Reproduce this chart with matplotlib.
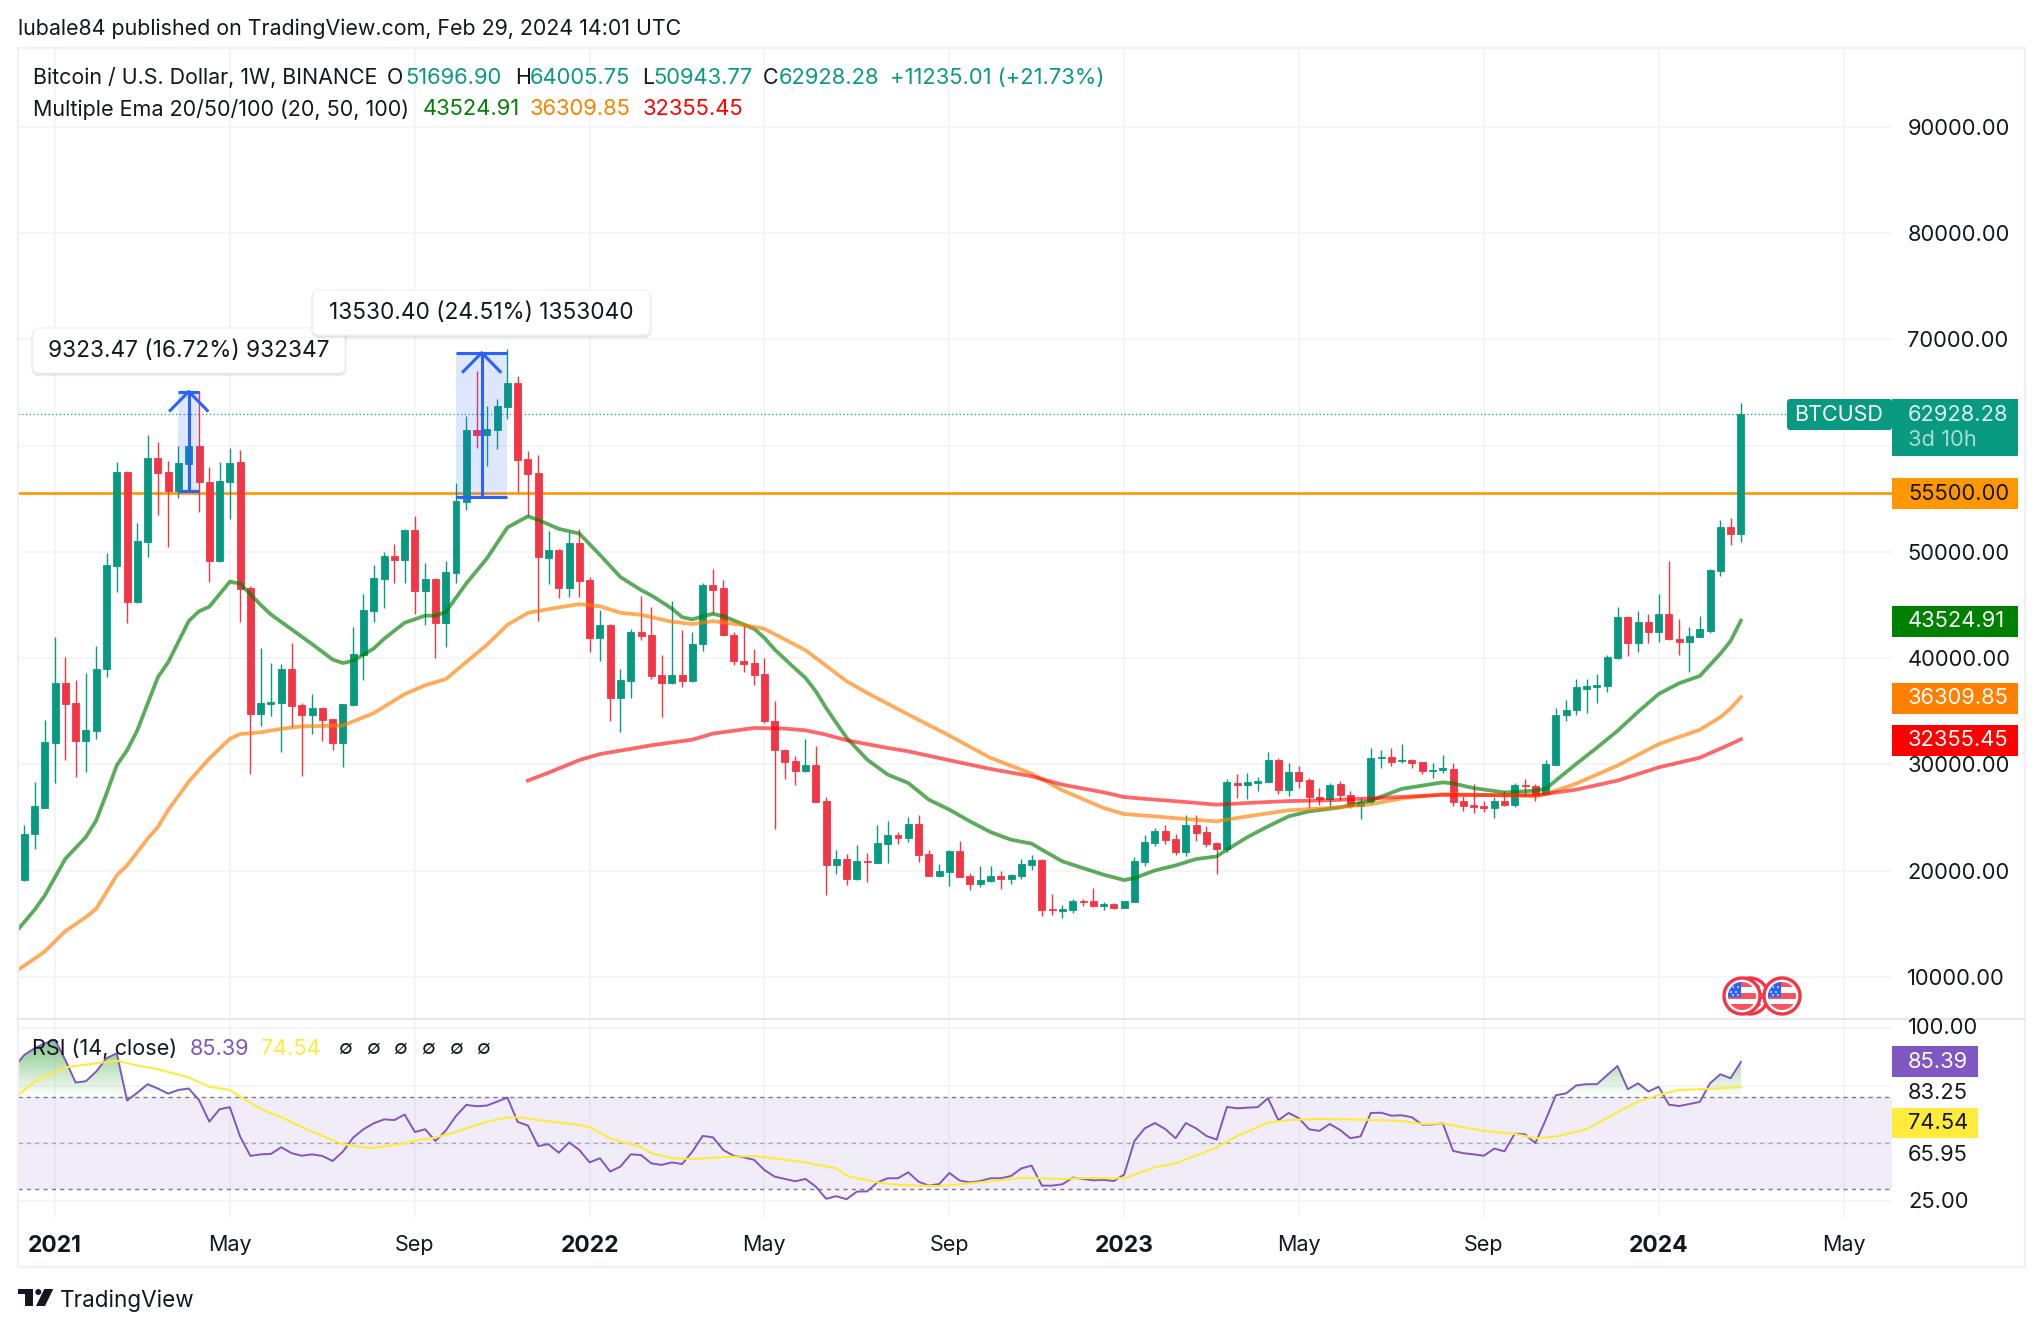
"""BTCUSD weekly chart with EMA 20/50/100 and RSI pane, TradingView look."""
import matplotlib
matplotlib.use("Agg")
import matplotlib.pyplot as plt
import numpy as np
from matplotlib.patches import Circle, FancyBboxPatch, Polygon, Rectangle
from matplotlib.path import Path

plt.rcParams["font.family"] = ["Inter", "DejaVu Sans"]

W, H = 2043, 1330
UP, DOWN = "#089981", "#F23645"
INK = "#131722"
GRID = "#F3F3F6"
BLUE = "#2962FF"

# weekly candles, first one is index 1 (week of 2020-12-14)
opens = [
    19070, 23410, 25920, 32010, 37680, 35800, 32200, 33110, 38950, 48700,
    57500, 45240, 50950, 58850, 57500, 55750, 58270, 59950, 56530, 49130,
    56560, 58440, 46620, 34750, 35700, 35800, 38950, 35600, 34650, 35330,
    34250, 32030, 35600, 40300, 44430, 47450, 49600, 49270, 52060, 46350,
    47460, 43320, 48030, 54680, 61470, 61030, 61470, 63650, 65900, 58710,
    57430, 49440, 50210, 46620, 50820, 47350, 41910, 43120, 36270, 37850,
    42450, 42180, 38420, 37680, 38420, 37850, 41310, 46920, 46550, 42210,
    39700, 39580, 38540, 34110, 31380, 30340, 29400, 29970, 26580, 20550,
    21110, 19230, 20920, 20730, 22530, 23370, 23090, 24410, 21580, 19510,
    19890, 21870, 19510, 18760, 19040, 19510, 19230, 19510, 20550, 21020,
    16400, 16210, 16310, 17160, 17160, 16690, 16870, 16500, 17060, 20830,
    22620, 23750, 23000, 21770, 24320, 23650, 22620, 22050, 28270, 28080,
    28270, 28370, 30440, 27610, 29310, 28530, 26920, 26750, 28160, 27120,
    26110, 26440, 30620, 30720, 30280, 30420, 30220, 29380, 29480, 29580,
    26510, 26170, 26070, 25870, 26510, 26210, 28060, 27960, 27220, 29980,
    34600, 35070, 37130, 37290, 37400, 39960, 43900, 41370, 43430, 42420,
    44100, 41810, 41540, 42010, 42590, 48150, 52330, 51696.90,
]
highs = [
    24250, 28300, 34180, 41980, 40130, 37950, 38620, 41140, 49870, 58440,
    57600, 52730, 60960, 60290, 58540, 59950, 61000, 65160, 57940, 58440,
    59790, 59550, 46780, 40970, 39560, 39460, 41410, 35800, 36600, 35400,
    34300, 35700, 42920, 46010, 48770, 49980, 50710, 52160, 53400, 48970,
    47500, 49100, 56490, 62810, 67010, 63750, 64390, 69090, 66570, 59520,
    59110, 51960, 50300, 51820, 52130, 47620, 44500, 43200, 38950, 42720,
    45840, 44830, 40300, 45340, 42650, 42480, 47020, 48340, 47300, 42460,
    43000, 40890, 40050, 36000, 31400, 30750, 32420, 31760, 26920, 21960,
    21580, 22430, 21650, 24320, 24690, 23660, 25070, 25260, 21960, 20640,
    21900, 22810, 19790, 20450, 20450, 19980, 19700, 21110, 21490, 21110,
    17820, 16780, 17340, 17300, 18380, 17060, 16970, 17160, 21300, 23370,
    24000, 24320, 23470, 25260, 25260, 24220, 22700, 28650, 29120, 29210,
    28840, 31190, 30630, 30160, 29870, 28700, 27760, 28260, 28430, 27520,
    26850, 31570, 31360, 31570, 31900, 30500, 30250, 30120, 30830, 30080,
    27020, 28130, 26510, 26920, 27520, 28200, 28600, 28130, 30390, 35270,
    36050, 38040, 38040, 38540, 40330, 44840, 44000, 44470, 44170, 45990,
    49090, 43630, 42960, 44000, 48420, 52970, 53170, 64005.75,
]
lows = [
    18980, 21990, 25850, 28240, 30380, 28810, 29250, 32360, 38180, 46250,
    43260, 45170, 49540, 53500, 50480, 55020, 55750, 53740, 47190, 49030,
    53130, 43420, 29040, 33650, 34590, 31160, 33510, 28870, 32840, 32170,
    31390, 29710, 35530, 37950, 43390, 44670, 47090, 47090, 44160, 43150,
    39960, 41070, 47020, 53970, 59790, 58110, 59720, 62540, 55590, 53400,
    43490, 46950, 45610, 45740, 45740, 40570, 39730, 34080, 33070, 36270,
    41740, 38010, 34420, 37540, 37270, 37780, 40640, 44250, 42060, 39320,
    38670, 37500, 33890, 23940, 28650, 28080, 29310, 26480, 17720, 19700,
    18660, 19070, 18950, 20730, 20730, 22530, 22710, 20830, 19450, 19400,
    18570, 19400, 18190, 18480, 18900, 18290, 18760, 19230, 20080, 15740,
    15840, 15550, 16030, 16690, 16590, 16310, 16400, 16450, 17000, 20450,
    22340, 22530, 21490, 21400, 22810, 22240, 19700, 21770, 26860, 26760,
    27520, 28300, 27240, 27050, 27800, 25900, 26170, 25970, 26680, 25840,
    24890, 26310, 29680, 29880, 30150, 29680, 29040, 28740, 29210, 26110,
    25570, 25430, 25500, 24990, 26100, 26000, 27120, 26580, 27110, 29950,
    34090, 34600, 34870, 35750, 36760, 39900, 40230, 40600, 41440, 41540,
    41700, 40330, 38640, 41950, 42350, 47680, 50610, 50943.77,
]
closes = [
    23470, 26040, 32070, 37680, 35700, 32200, 33240, 38950, 48770, 57500,
    45240, 50980, 58850, 57430, 55750, 58380, 59950, 56530, 49140, 56660,
    58380, 46510, 34750, 35760, 35860, 38950, 35530, 34650, 35330, 34180,
    32030, 35700, 40370, 44500, 47520, 49570, 49270, 52060, 46350, 47460,
    43320, 48090, 54750, 61470, 61030, 61530, 63720, 65900, 58680, 57330,
    49470, 50180, 46620, 50820, 47250, 41910, 43120, 36270, 37950, 42450,
    42080, 38350, 37680, 38420, 37850, 41310, 46920, 46450, 42210, 39700,
    39480, 38450, 34050, 31320, 30250, 29400, 29970, 26480, 20550, 21110,
    19230, 20920, 20830, 22620, 23370, 23090, 24410, 21490, 19510, 19980,
    21870, 19420, 18760, 19130, 19510, 19230, 19610, 20640, 21020, 16310,
    16310, 16400, 17160, 17060, 16690, 16870, 16500, 17160, 20920, 22710,
    23750, 22900, 21770, 24320, 23560, 22530, 22050, 28370, 28080, 28370,
    28460, 30440, 27610, 29310, 28460, 26920, 26750, 28060, 27120, 26110,
    26440, 30620, 30720, 30220, 30420, 30150, 29380, 29510, 29610, 26440,
    26110, 26000, 25870, 26510, 26210, 28060, 27960, 27120, 30020, 34670,
    35140, 37230, 37360, 37430, 40060, 43900, 41370, 43430, 42420, 44100,
    41780, 41540, 42110, 42690, 48250, 52330, 51700, 62928.28,
]

ema20_weeks = [
    0, 2, 3, 4, 5, 7, 8, 9, 10, 11, 12, 14, 15, 17, 18, 19, 21, 22, 24, 25, 26,
    29, 31, 32, 33, 35, 36, 38, 40, 41, 42, 44, 46, 48, 50, 51, 53, 55, 57, 59,
    61, 62, 64, 65, 66, 67, 68, 69, 71, 72, 73, 74, 76, 77, 78, 79, 80, 81, 83,
    85, 87, 89, 91, 93, 95, 97, 99, 100, 102, 104, 106, 108, 109, 111, 113, 115,
    117, 118, 120, 122, 124, 126, 129, 132, 135, 139, 140, 142, 145, 148, 149,
    152, 154, 156, 158, 160, 162, 164, 166, 167, 168,
]
ema20 = [
    14000, 16300, 17660, 19390, 21110, 23160, 24720, 27240, 29910, 31320, 33200,
    38200, 39600, 43490, 44400, 44830, 47190, 47000, 45000, 44100, 43400, 41310,
    39860, 39530, 39750, 40900, 41810, 43320, 43990, 43990, 44330, 47020, 49370,
    52290, 53340, 53000, 52160, 51720, 49710, 47620, 46400, 45900, 44660, 43850,
    43630, 43940, 44160, 43940, 43160, 42750, 41900, 40800, 39000, 38130, 36880,
    35310, 33890, 32500, 30440, 29030, 28240, 26670, 25730, 24630, 23620, 22900,
    22530, 21960, 20860, 20230, 19610, 19100, 19290, 20010, 20480, 21080, 21330,
    21960, 23150, 24160, 25100, 25570, 25940, 26580, 27690, 28300, 28200, 27760,
    27350, 27520, 27690, 30050, 31570, 33150, 34940, 36620, 37630, 38310, 40400,
    41610, 43524.91,
]
ema50_weeks = [
    0, 2, 3, 5, 7, 8, 10, 11, 13, 14, 15, 17, 19, 21, 22, 24, 26, 28, 32, 35, 38,
    40, 42, 44, 46, 48, 50, 53, 55, 57, 59, 61, 64, 66, 68, 71, 73, 77, 81, 83,
    87, 91, 95, 99, 102, 106, 108, 111, 114, 117, 120, 124, 128, 132, 135, 139,
    148, 149, 152, 154, 156, 158, 160, 162, 164, 166, 167, 168,
]
ema50 = [
    10400, 11700, 12390, 14300, 15620, 16400, 19550, 20490, 23000, 24100, 25700,
    28370, 30550, 32400, 32840, 33010, 33340, 33570, 33650, 34820, 36600, 37440,
    38010, 39630, 41240, 43120, 44260, 44770, 45070, 44870, 44260, 44060, 43420,
    43200, 43470, 43100, 42750, 40740, 37820, 36720, 34680, 32700, 30600, 29120,
    27550, 25890, 25320, 25100, 24850, 24630, 25100, 25670, 25890, 26240, 26780,
    27190, 27020, 27190, 28200, 29040, 29880, 30890, 31900, 32580, 33250, 34430,
    35270, 36309.85,
]
ema100_weeks = [
    50, 52, 55, 57, 60, 62, 66, 68, 72, 75, 77, 79, 81, 85, 87, 91, 95, 99, 102,
    106, 108, 111, 114, 117, 120, 124, 128, 139, 148, 152, 156, 160, 164, 167, 168,
]
ema100 = [
    28470, 29210, 30400, 30960, 31450, 31790, 32320, 32890, 33420, 33360, 33200,
    32790, 32260, 31540, 31220, 30380, 29560, 28870, 28080, 27360, 26920, 26670,
    26450, 26200, 26360, 26540, 26610, 27120, 27080, 27620, 28470, 29710, 30620,
    31900, 32355.45,
]

# RSI from index 0
rsi = [
    83.0, 88.4, 91.3, 93.5, 94.9, 86.2, 76.4, 77.0, 81.2, 87.0, 89.1, 68.6, 72.0,
    75.7, 73.8, 71.6, 73.2, 73.8, 68.8, 59.4, 64.8, 65.7, 52.9, 44.5, 45.2, 45.4,
    48.3, 45.7, 44.6, 45.2, 44.5, 42.3, 46.4, 52.5, 56.1, 58.7, 60.4, 60.1, 62.5,
    54.9, 56.1, 51.0, 55.5, 61.9, 66.7, 66.1, 66.4, 68.1, 69.9, 59.3, 57.7, 48.8,
    49.6, 45.9, 50.4, 47.1, 41.7, 43.5, 37.7, 39.9, 45.2, 44.9, 41.3, 40.6, 41.7,
    41.0, 46.4, 53.2, 52.6, 47.1, 44.6, 43.9, 42.8, 38.4, 35.5, 34.5, 33.5, 34.5,
    31.2, 25.9, 27.0, 25.7, 29.0, 29.1, 33.0, 34.8, 34.8, 37.4, 33.3, 31.6, 32.3,
    37.1, 33.8, 33.0, 33.6, 34.8, 34.8, 35.8, 39.1, 40.3, 31.6, 31.6, 32.2, 35.1,
    34.5, 33.9, 34.1, 33.6, 36.4, 51.0, 56.5, 58.8, 56.2, 52.2, 58.8, 56.5, 53.2,
    51.6, 65.8, 65.2, 65.5, 65.7, 69.6, 60.0, 63.2, 60.9, 56.1, 55.4, 58.4, 55.8,
    52.2, 53.0, 63.2, 63.3, 62.0, 62.2, 61.3, 58.1, 58.2, 58.7, 46.7, 45.7, 45.2,
    44.6, 47.7, 46.5, 54.2, 53.9, 50.1, 60.1, 70.9, 71.7, 75.2, 75.7, 75.7, 79.7,
    83.6, 73.5, 76.1, 72.5, 74.6, 66.8, 66.2, 67.1, 68.0, 76.1, 80.0, 78.3, 85.39,
]
rsi_ma_weeks = [
    0, 2, 5, 6, 8, 10, 12, 14, 17, 19, 21, 24, 26, 29, 32, 34, 35, 38, 39, 41, 43,
    46, 48, 49, 53, 55, 56, 58, 61, 62, 64, 66, 69, 72, 75, 77, 80, 81, 84, 86,
    90, 93, 96, 98, 102, 104, 108, 111, 113, 116, 117, 119, 122, 124, 127, 131,
    135, 137, 139, 143, 146, 148, 150, 153, 156, 158, 160, 162, 164, 166, 168,
]
rsi_ma = [
    69.5, 76.8, 83.0, 83.6, 84.8, 85.9, 83.8, 82.2, 78.6, 74.6, 73.2, 64.9, 61.3,
    55.0, 49.6, 48.3, 48.0, 50.0, 51.2, 52.5, 55.0, 59.4, 61.2, 61.3, 59.0, 58.0,
    57.0, 52.2, 48.3, 45.7, 43.5, 43.2, 44.0, 44.5, 42.8, 41.7, 39.1, 35.9, 33.0,
    31.9, 31.4, 32.6, 34.0, 35.0, 34.5, 34.9, 34.8, 39.6, 41.3, 46.4, 48.3, 53.2,
    59.0, 60.1, 60.6, 60.3, 59.7, 58.4, 58.6, 55.4, 54.1, 52.2, 52.9, 56.2, 63.5,
    68.1, 71.0, 73.2, 73.5, 73.9, 74.54,
]

axis_ticks_price = [10000, 20000, 30000, 40000, 50000, 60000, 70000, 80000, 90000]
time_ticks = [4, 21, 39, 56, 73, 91, 108, 125, 143, 160, 178]
time_labels = ["2021", "May", "Sep", "2022", "May", "Sep", "2023", "May", "Sep", "2024", "May"]

# price tool ranges: first week, last week, low, high
range_a = (16, 18, 55762, 65085)
range_b = (43, 48, 55203, 68733)
level = 55500
last_price = 62928.28

weeks = np.arange(1, 169)
o, h, l, c = map(np.array, (opens, highs, lows, closes))
rsi_weeks = np.arange(0, 169)
rsi_arr = np.array(rsi)

XLIM = (0.39, 182.7)
LEFT, RIGHT = 18, 1892
TOP, SPLIT, BOTTOM = 48, 1019, 1217

fig = plt.figure(figsize=(W / 100, H / 100), dpi=100, facecolor="white")


def pane(y0, y1):
    a = fig.add_axes([LEFT / W, 1 - y1 / H, (RIGHT - LEFT) / W, (y1 - y0) / H])
    for s in a.spines.values():
        s.set_visible(False)
    a.set_xlim(*XLIM)
    a.set_axisbelow(True)
    a.grid(True, color=GRID, lw=1.1)
    a.set_xticks(time_ticks)
    a.tick_params(length=0)
    return a


ax = pane(TOP, SPLIT)
ax.set_ylim(6028, 97416)
ax.set_xticklabels([])
ax.yaxis.tick_right()
ax.set_yticks(axis_ticks_price)
ax.set_yticklabels(["" if p == 60000 else f"{p:.2f}" for p in axis_ticks_price], fontsize=15.8, color=INK)
ax.tick_params(axis="y", pad=11)

ax.axhline(level, color="#FF9800", lw=1.9, zorder=2)
ax.plot([XLIM[0], 172.4], [last_price, last_price], color=UP, lw=0.9, ls=(0, (1, 2)), zorder=2)

colors = [UP if b >= a else DOWN for a, b in zip(o, c)]
ax.vlines(weeks, l, h, colors=colors, lw=1.0, zorder=3)
ax.bar(weeks, np.abs(c - o), bottom=np.minimum(o, c), width=0.68, color=colors, edgecolor=colors, lw=0.6, zorder=3)

ax.plot(ema20_weeks, ema20, color="#008000", alpha=0.65, lw=2.7, zorder=4)
ax.plot(ema50_weeks, ema50, color="#FF7F00", alpha=0.65, lw=2.7, zorder=4)
ax.plot(ema100_weeks, ema100, color="#FF0000", alpha=0.6, lw=2.7, zorder=4)

for x0, x1, lo, hi in (range_a, range_b):
    mid = (x0 + x1) / 2
    ax.add_patch(Rectangle((x0, lo), x1 - x0, hi - lo, fc=BLUE, alpha=0.15, lw=0, zorder=5))
    ax.plot([x0, x1], [hi, hi], color=BLUE, lw=2.2, zorder=6, solid_capstyle="butt")
    ax.plot([x0, x1], [lo, lo], color=BLUE, lw=2.2, zorder=6, solid_capstyle="butt")
    ax.plot([mid, mid], [lo, hi], color=BLUE, lw=2.2, zorder=6, solid_capstyle="butt")
    ax.plot([mid - 1.8, mid, mid + 1.8], [hi - 1780, hi, hi - 1780], color=BLUE, lw=2.2, zorder=6)

rx = pane(SPLIT, BOTTOM)
rx.set_ylim(17.96, 104.04)
rx.set_yticks([25, 50, 75, 100])
rx.set_yticklabels([])
rx.set_xticklabels(time_labels, fontsize=15.5, color=INK)
for lab, text in zip(rx.get_xticklabels(), time_labels):
    if text.isdigit():
        lab.set_fontweight("bold")
        lab.set_fontsize(16.5)
rx.tick_params(axis="x", pad=13)

rx.axhspan(30, 70, color="#7E57C2", alpha=0.1, lw=0, zorder=1)
rx.axhline(70, color="#787B86", lw=1.0, ls=(0, (3, 3)), zorder=2)
rx.axhline(50, color="#787B86", lw=1.0, ls=(0, (3, 3)), alpha=0.6, zorder=2)
rx.axhline(30, color="#787B86", lw=1.0, ls=(0, (3, 3)), zorder=2)

# overbought gradient, clipped to the area between the RSI line and 70
over = rx.fill_between(rsi_weeks, rsi_arr, 70, where=rsi_arr > 70, interpolate=True, facecolor="none", lw=0)
grad = np.zeros((256, 1, 4))
grad[..., :3] = matplotlib.colors.to_rgb("#4CAF50")
grad[..., 3] = np.linspace(0, 0.85, 256)[:, None]
im = rx.imshow(grad, extent=(0, 168, 70, 100), origin="lower", aspect="auto", zorder=2)
im.set_clip_path(Path.make_compound_path(*over.get_paths()), transform=rx.transData)
rx.fill_between(rsi_weeks, rsi_arr, 30, where=rsi_arr < 30, interpolate=True, color="#F23645", alpha=0.08, lw=0, zorder=2)
rx.set_xlim(*XLIM)
rx.set_ylim(17.96, 104.04)

rx.plot(rsi_weeks, rsi, color="#7E57C2", lw=1.4, zorder=3)
rx.plot(rsi_ma_weeks, rsi_ma, color="#FFEB3B", lw=1.5, zorder=4)

# overlay in pixel coordinates for labels and chrome
ov = fig.add_axes([0, 0, 1, 1], zorder=10)
ov.set_xlim(0, W)
ov.set_ylim(H, 0)
ov.axis("off")
ov.patch.set_alpha(0)


def label(x, y, s, color=INK, size=15.8, ha="left", **kw):
    ov.text(x, y, s, color=color, fontsize=size, ha=ha, va="center", **kw)


def tag(x0, x1, y0, y1, bg):
    ov.add_patch(Rectangle((x0, y0), x1 - x0, y1 - y0, fc=bg, lw=0))


# frame
ov.plot([18, 18, 2025, 2025, 18], [48, 1267, 1267, 48, 48], color="#F0F0F6", lw=1.6)
ov.plot([18, 2025], [1019, 1019], color="#E6E6EE", lw=1.4)

LEG = 15.4
label(18, 29, "lubale84 published on TradingView.com, Feb 29, 2024 14:01 UTC", size=LEG)
label(33, 78, "Bitcoin / U.S. Dollar, 1W, BINANCE", size=LEG)
for x, s in ((387, "O"), (515, "H"), (642, "L"), (763, "C")):
    label(x, 78, s, size=LEG)
for x, s in ((405, "51696.90"), (530, "64005.75"), (653, "50943.77"), (779, "62928.28"), (890, "+11235.01 (+21.73%)")):
    label(x, 78, s, color=UP, size=15.8)
label(33, 109, "Multiple Ema 20/50/100 (20, 50, 100)", size=15.5)
label(423, 109, "43524.91", color="#008000", size=15.8)
label(530, 109, "36309.85", color="#FF7F00", size=15.8)
label(643, 109, "32355.45", color="#FF0000", size=15.8)

# measure bubbles
for (x0, x1, y0, y1), s in (
    ((33, 345, 328, 373), "9323.47 (16.72%) 932347"),
    ((313, 650, 290, 335), "13530.40 (24.51%) 1353040"),
):
    ov.add_patch(FancyBboxPatch((x0, y0 + 1.5), x1 - x0, y1 - y0, boxstyle="round,pad=0,rounding_size=6",
                                fc="#000000", alpha=0.07, lw=2.5, ec="#000000"))
    ov.add_patch(FancyBboxPatch((x0, y0), x1 - x0, y1 - y0, boxstyle="round,pad=0,rounding_size=6",
                                fc="white", ec="#F0F3FA", lw=1))
    label((x0 + x1) / 2, (y0 + y1) / 2, s, ha="center", size=16.3)

# price scale tags
ov.add_patch(FancyBboxPatch((1787, 399), 105, 31, boxstyle="round,pad=0,rounding_size=3", fc=UP, lw=0))
label(1794, 415, "BTCUSD", color="white", size=15.5)
tag(1892, 2018, 399, 456, UP)
label(1908, 415, "62928.28", color="#D9F2EE")
label(1908, 440, "3d 10h", color="#A8DDD4")
tag(1892, 2018, 478, 509, "#FF9800")
label(1908, 493.5, "55500.00")
tag(1892, 2018, 605.5, 636.5, "#008000")
label(1908, 621, "43524.91", color="white")
tag(1892, 2018, 682.5, 713.5, "#FF7F00")
label(1908, 698, "36309.85", color="white")
tag(1892, 2018, 724.5, 755.5, "#FF0000")
label(1908, 740, "32355.45", color="white")

# RSI scale text and tags
tag(1892, 1978, 1046, 1077, "#7E57C2")
label(1908, 1062, "85.39", color="white")
tag(1892, 1978, 1108, 1138, "#FFEB3B")
label(1908, 1123, "74.54")
label(1908, 1028, "100.00")
label(1908, 1093, "83.25")
label(1908, 1155, "65.95")
label(1908, 1202, "25.00")

# RSI legend
label(32, 1049, "RSI (14, close)", size=15.6)
label(190, 1049, "85.39", color="#7E57C2", size=15.6)
label(261, 1049, "74.54", color="#FFEB3B", size=15.6)
for x in (338, 366, 393, 421, 449, 476):
    label(x, 1049, "∅", size=14.5)


def flag(cx, cy):
    ov.add_patch(Circle((cx, cy), 18, fc="white", ec="#F23645", lw=2.4))
    disc = Circle((cx, cy), 14, transform=ov.transData)
    parts = [Rectangle((cx - 15, cy - 14), 30, 5, fc="#F7525F", lw=0),
             Rectangle((cx - 15, cy - 3), 30, 6, fc="#F7525F", lw=0),
             Rectangle((cx - 15, cy + 8), 30, 6, fc="#F7525F", lw=0),
             Rectangle((cx - 15, cy - 14), 14, 15, fc="#2962FF", lw=0)]
    for p in parts:
        ov.add_patch(p)
        p.set_clip_path(disc)
    for dx, dy in ((-9, -9), (-4, -9), (-11, -4), (-6, -4), (-9, -1), (-4, -1)):
        ov.add_patch(Circle((cx + dx, cy + dy), 0.9, fc="white", lw=0))


flag(1750, 996)
flag(1742, 996)
flag(1782, 996)

# TradingView mark
ov.add_patch(Polygon([(18.3, 1289), (33.3, 1289), (33.3, 1306), (25, 1306), (25, 1294.3), (18.3, 1294.3)], fc=INK, lw=0))
ov.add_patch(Circle((38.3, 1292), 3, fc=INK, lw=0))
ov.add_patch(Polygon([(53.3, 1289), (44.3, 1289), (36, 1306), (45, 1306)], fc=INK, lw=0))
label(60, 1300.5, "TradingView", size=16.2)

fig.savefig("out.png", dpi=100, facecolor="white")
